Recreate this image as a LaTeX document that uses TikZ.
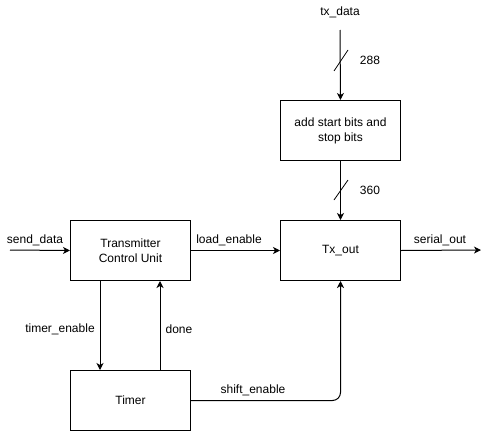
\documentclass[tikz,border=0pt]{standalone}
\usepackage{fontspec}
\setmainfont{Liberation Sans}
\usetikzlibrary{arrows.meta}
\begin{document}
\begin{tikzpicture}[x=1pt,y=-1pt,
  font=\fontsize{12}{15}\selectfont,
  block/.style={draw,line width=1pt,minimum width=120pt,minimum height=60pt,align=center,anchor=north west,inner sep=0pt},
  conn/.style={line width=1pt,-{Stealth[length=7pt,width=7pt,inset=2pt]}},
  lbl/.style={inner sep=0pt}]
\useasboundingbox (0,0) rectangle (490,434);
\node[block] (add) at (280,100) {add start bits and\\stop bits};
\node[block] (tx) at (280,220) {Tx\_out};
\node[block] (tcu) at (70,220) {Transmitter\\Control Unit};
\node[block] (timer) at (70,370) {Timer};
\node[lbl] (txdata) at (340,12) {tx\_data};
\coordinate (txin) at (340,30);
\coordinate (sdin) at (10,250);
\coordinate (sout) at (481,250);
\draw[conn] (txin) -- (add.north);
\draw[conn] (add.south) -- (tx.north);
\draw[conn] (sdin) -- (tcu.west);
\draw[conn] (tcu.east) -- (tx.west);
\draw[conn] (tx.east) -- (sout);
\draw[conn] (tcu.south west)++(30,0) coordinate (te1) -- (te1 |- timer.north);
\draw[conn] (timer.north west)++(90,0) coordinate (dn1) -- (dn1 |- tcu.south);
\draw[conn,rounded corners=8pt] (timer.east) -| (tx.south);
% bus slashes
\draw[line width=0.8pt] (334,71) -- (348,50);
\draw[line width=0.8pt] (334,200) -- (348,180);
\node[lbl] (n288) at (370,60) {288};
\node[lbl] (n360) at (370,190) {360};
\node[lbl] (lsend) at (35,240) {send\_data};
\node[lbl] (lload) at (229,240) {load\_enable};
\node[lbl] (lser) at (440,240) {serial\_out};
\node[lbl] (ltimer) at (60,329) {timer\_enable};
\node[lbl] (ldone) at (179,329) {done};
\node[lbl] (lshift) at (253,390) {shift\_enable};
\end{tikzpicture}
\end{document}
